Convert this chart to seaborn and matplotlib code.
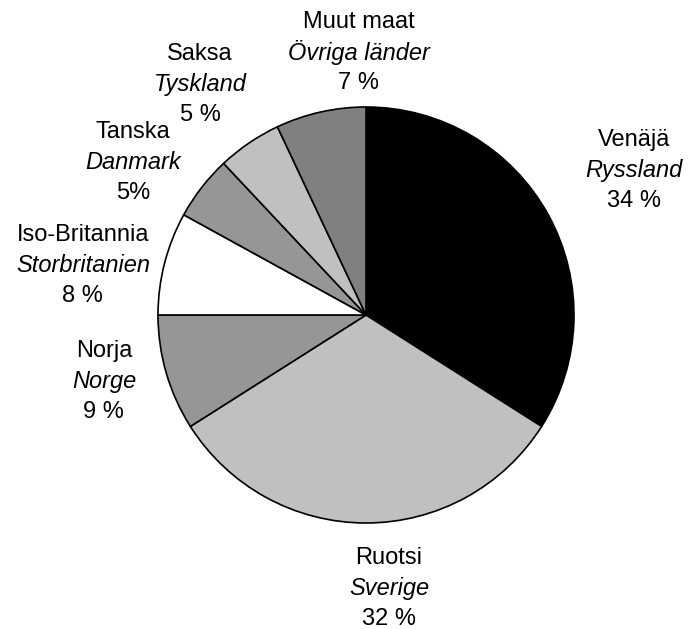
import matplotlib
matplotlib.use("Agg")
import matplotlib.pyplot as plt
import seaborn as sns

# Data
fi_names = ["Venäjä", "Ruotsi", "Norja", "Iso-Britannia", "Tanska", "Saksa", "Muut maat"]
sv_names = ["Ryssland", "Sverige", "Norge", "Storbritanien", "Danmark", "Tyskland", "Övriga länder"]
shares = [34, 32, 9, 8, 5, 5, 7]
pct_labels = ["34 %", "32 %", "9 %", "8 %", "5%", "5 %", "7 %"]

colors = ["#000000", "#c0c0c0", "#969696", "#ffffff", "#969696", "#c0c0c0", "#808080"]

# label anchor positions (radius units, relative to pie centre) for the middle line
label_pos = [(1.288, 0.697), (0.111, -1.313), (-1.260, -0.322), (-1.361, 0.236),
             (-1.120, 0.731), (-0.798, 1.106), (-0.034, 1.260)]

sns.set_theme(style="white")
plt.rcParams["font.family"] = ["Liberation Sans", "DejaVu Sans"]

W, H = 689, 629
fig = plt.figure(figsize=(W / 100, H / 100), dpi=100)
ax = fig.add_axes([0, 0, 1, 1])

cx, cy, R = 366, 314, 208
ax.pie(shares, colors=colors, startangle=90, counterclock=False, radius=1.0,
       wedgeprops=dict(edgecolor="black", linewidth=1.2))
ax.set_xlim(-cx / R, (W - cx) / R)
ax.set_ylim(-cy / R, (H - cy) / R)
ax.set_aspect("equal", adjustable="box")
ax.axis("off")

dy = 30.5 / R
fs = 17
for fi, sv, p, (lx, ly) in zip(fi_names, sv_names, pct_labels, label_pos):
    ax.text(lx, ly + dy, fi, ha="center", va="center", fontsize=fs, color="black")
    ax.text(lx, ly, sv, ha="center", va="center", fontsize=fs, style="italic", color="black")
    ax.text(lx, ly - dy, p, ha="center", va="center", fontsize=fs, color="black")

fig.savefig("out.png", dpi=100, facecolor="white")
